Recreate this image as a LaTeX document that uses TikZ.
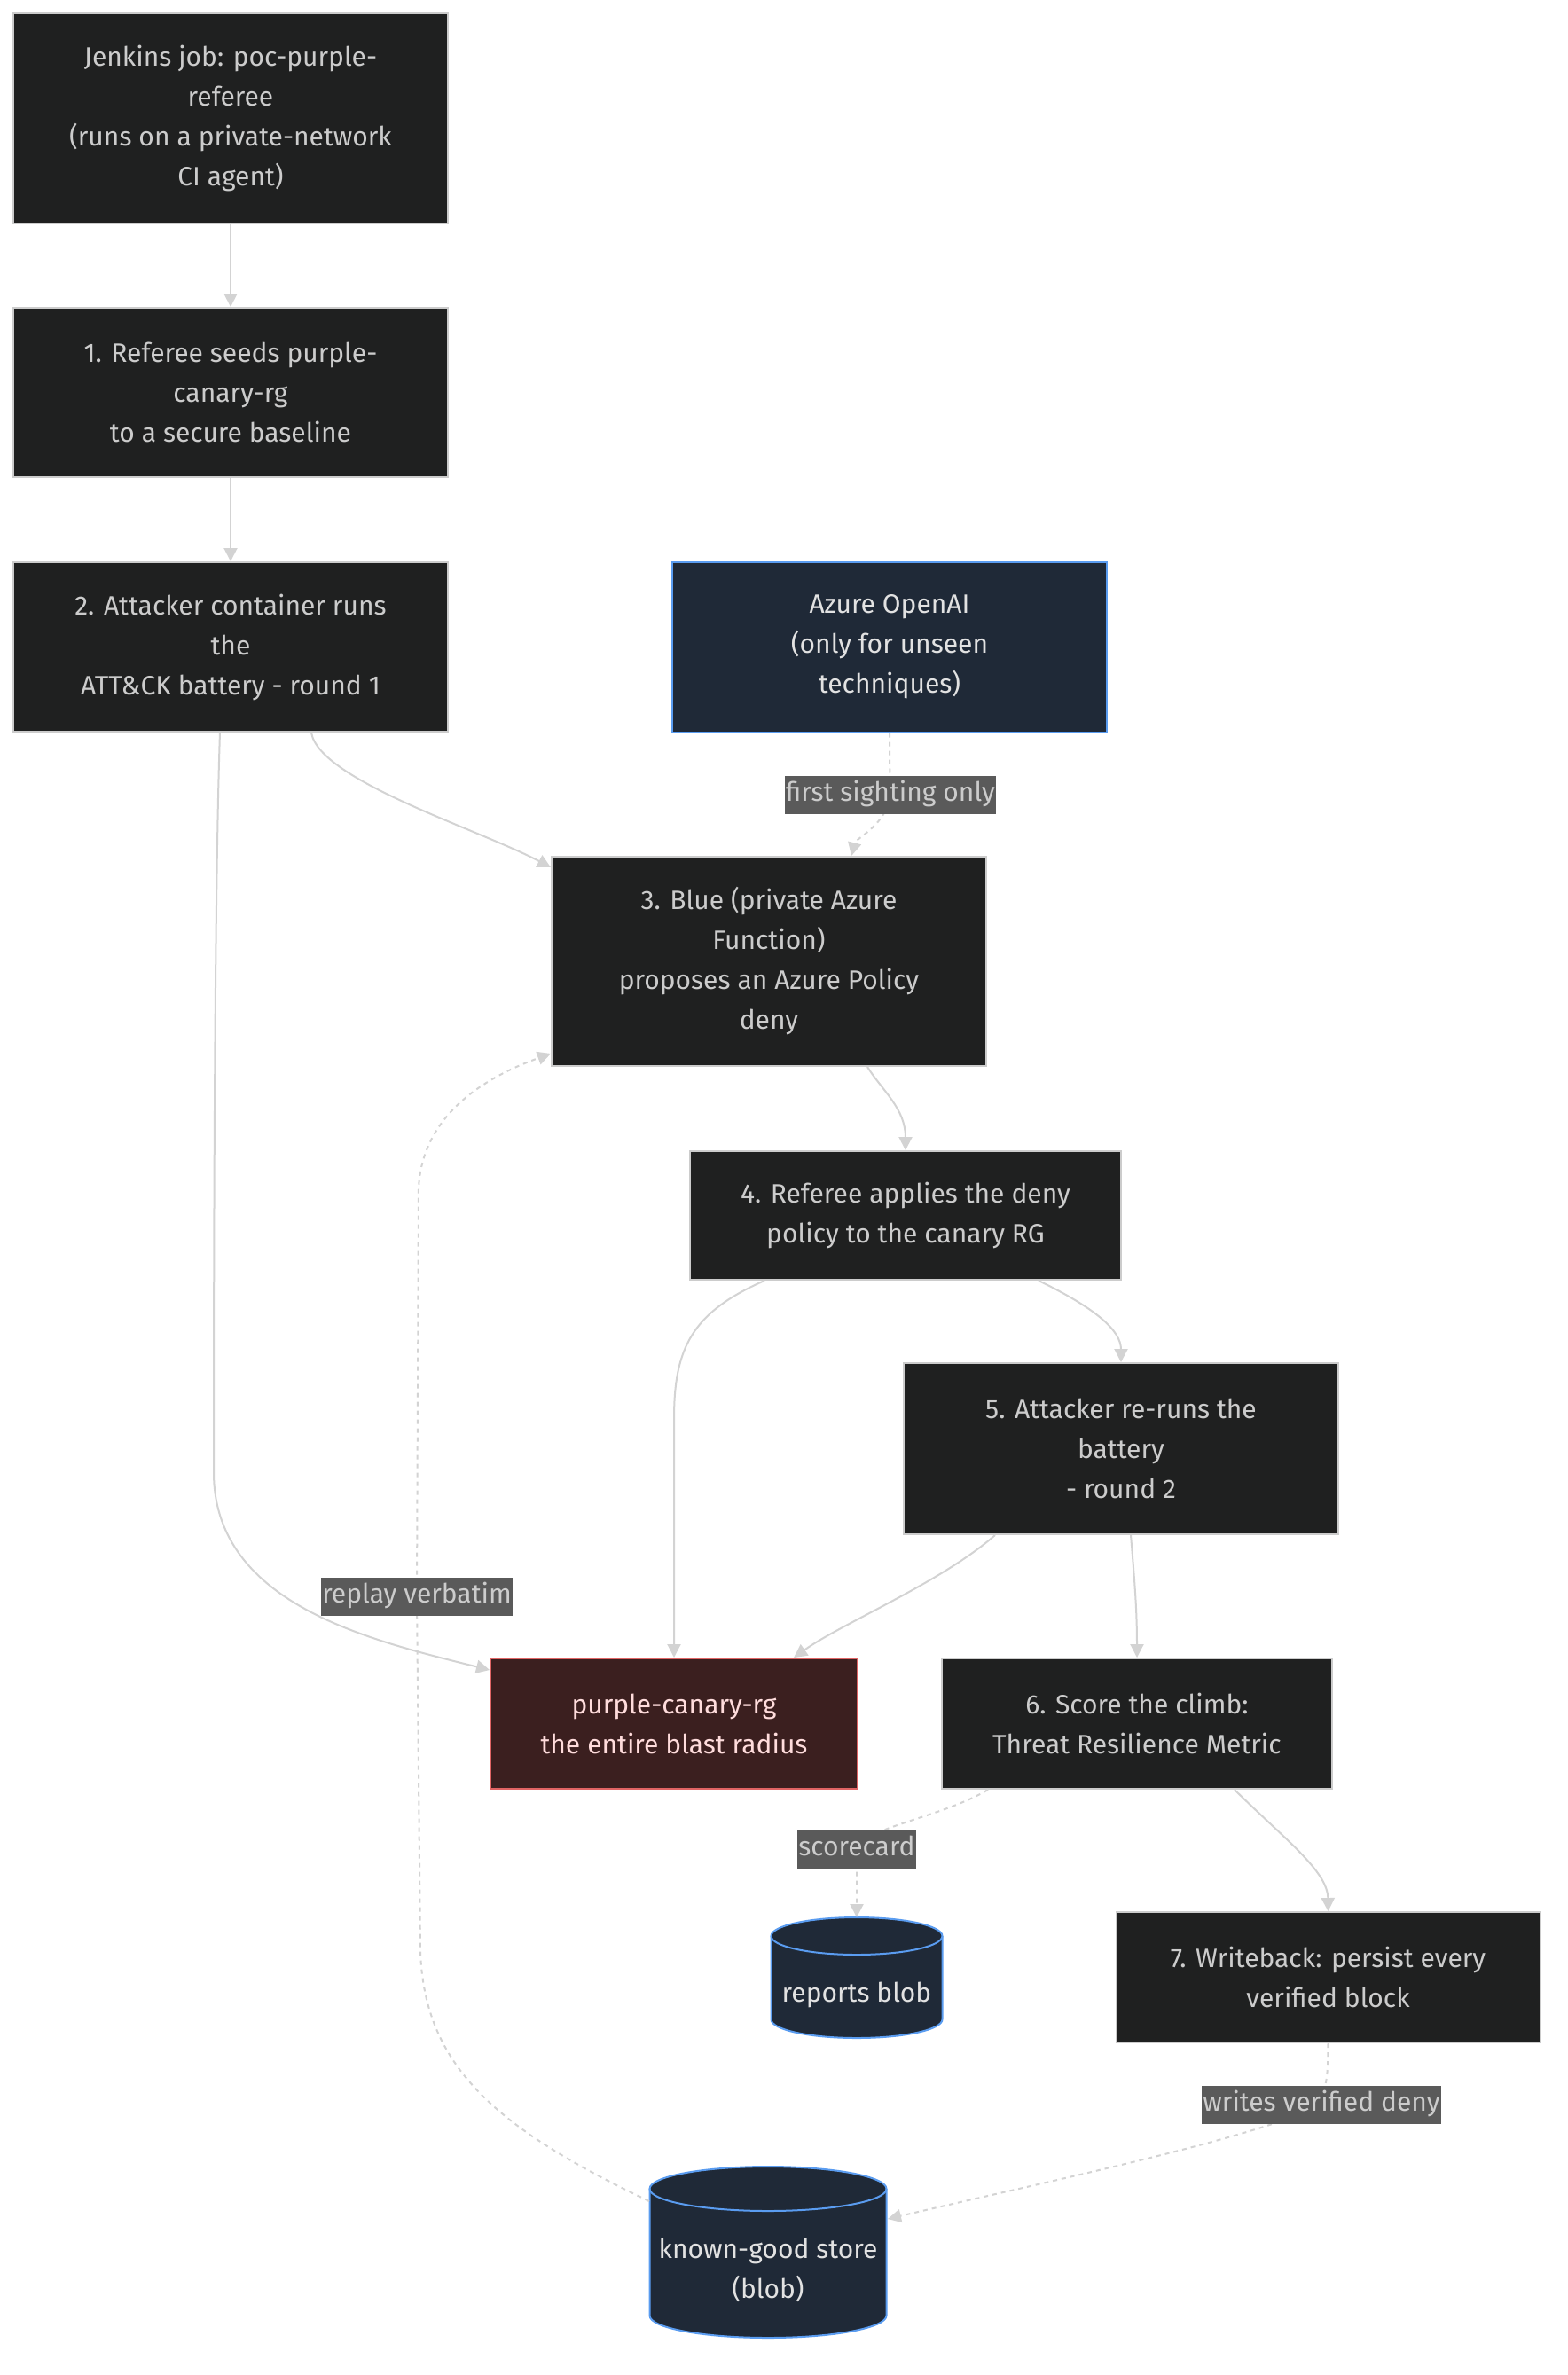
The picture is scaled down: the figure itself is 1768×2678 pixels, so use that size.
\documentclass[tikz,border=0pt]{standalone}
\usepackage{fontspec}
\setmainfont{Fira Sans}
\usetikzlibrary{arrows.meta}
\usepackage{xcolor}
\definecolor{stepfill}{HTML}{1F2020}
\definecolor{stepline}{HTML}{CCCCCC}
\definecolor{steptext}{HTML}{CCCCCC}
\definecolor{azfill}{HTML}{1F2937}
\definecolor{azline}{HTML}{5A9CF0}
\definecolor{aztext}{HTML}{E2E2E2}
\definecolor{rgfill}{HTML}{3B1F1F}
\definecolor{rgline}{HTML}{E06464}
\definecolor{rgtext}{HTML}{FFDCDC}
\definecolor{edgeline}{HTML}{D3D3D3}
\definecolor{labelfill}{HTML}{5A5A5A}
\tikzset{
	stepbox/.style={draw=stepline, line width=2pt, fill=stepfill, text=steptext, align=center, inner sep=0pt, font=\fontsize{30}{45}\selectfont},
	azbox/.style={stepbox, draw=azline, fill=azfill, text=aztext},
	rgbox/.style={stepbox, draw=rgline, fill=rgfill, text=rgtext},
	blobtext/.style={text=aztext, align=center, inner sep=0pt, font=\fontsize{30}{45}\selectfont},
	elabel/.style={fill=labelfill, text=steptext, inner xsep=1pt, inner ysep=7pt, text height=22pt, text depth=7pt, font=\fontsize{30}{45}\selectfont},
	flow/.style={draw=edgeline, line width=2pt, -{Triangle[length=15pt,width=15pt]}},
	dflow/.style={flow, dash pattern=on 5pt off 5pt},
}

\begin{document}
\begin{tikzpicture}[x=1pt,y=1pt]
			\fill[white] (0,0) rectangle (1768,-2678);
			\useasboundingbox (0,0) rectangle (1768,-2678);
			% boxes
			\node[stepbox, minimum width=490, minimum height=237] (jenkins) at (260,-133) {Jenkins job: poc-purple-\\referee\\(runs on a private-network\\CI agent)};
			\node[stepbox, minimum width=490, minimum height=191] (seed) at (260,-442.5) {1. Referee seeds purple-\\canary-rg\\to a secure baseline};
			\node[stepbox, minimum width=490, minimum height=191] (attack) at (260,-729.5) {2. Attacker container runs\\the\\ATT\&CK battery - round 1};
			\node[azbox, minimum width=490, minimum height=192] (openai) at (1003,-729.5) {Azure OpenAI\\(only for unseen\\techniques)};
			\node[stepbox, minimum width=490, minimum height=236] (blue) at (867,-1084) {3. Blue (private Azure\\Function)\\proposes an Azure Policy\\deny};
			\node[stepbox, minimum width=486, minimum height=145] (apply) at (1021,-1370.5) {4. Referee applies the deny\\policy to the canary RG};
			\node[stepbox, minimum width=490, minimum height=193] (rerun) at (1264,-1633.5) {5. Attacker re-runs the\\battery\\- round 2};
			\node[rgbox, minimum width=414, minimum height=147] (canary) at (760,-1943.5) {purple-canary-rg\\the entire blast radius};
			\node[stepbox, minimum width=440, minimum height=147] (score) at (1282,-1943.5) {6. Score the climb:\\Threat Resilience Metric};
			\node[stepbox, minimum width=478, minimum height=147] (writeback) at (1497.5,-2229.5) {7. Writeback: persist every\\verified block};
			% blobs
			\fill[azfill] (869.5,-2183) -- (869.5,-2277) arc[start angle=180,end angle=360,x radius=96.5,y radius=21] -- (1062.5,-2183) arc[start angle=0,end angle=180,x radius=96.5,y radius=21] -- cycle;
			\draw[azline, line width=2pt] (869.5,-2183) -- (869.5,-2277) arc[start angle=180,end angle=360,x radius=96.5,y radius=21] -- (1062.5,-2183);
			\draw[azline, line width=2pt] (966,-2183) ellipse [x radius=96.5, y radius=21];
			\node[blobtext] (reports) at (966,-2249) {reports blob};
			\coordinate (reportstop) at (966,-2162);
			\fill[azfill] (732.5,-2468) -- (732.5,-2611) arc[start angle=180,end angle=360,x radius=133.5,y radius=25] -- (999.5,-2468) arc[start angle=0,end angle=180,x radius=133.5,y radius=25] -- cycle;
			\draw[azline, line width=2pt] (732.5,-2468) -- (732.5,-2611) arc[start angle=180,end angle=360,x radius=133.5,y radius=25] -- (999.5,-2468);
			\draw[azline, line width=2pt] (866,-2468) ellipse [x radius=133.5, y radius=25];
			\node[blobtext] (known) at (866,-2560) {known-good store\\(blob)};
			\coordinate (knownright) at (1001,-2502);
			\coordinate (knownleft) at (732,-2482);
			% connectors
			\draw[flow] (jenkins) -- (seed);
			\draw[flow] (seed) -- (attack);
			\draw[flow] ([xshift=91]attack.south) .. controls (360,-880) and (540,-935) .. ([yshift=-13]blue.north west);
			\draw[flow] ([xshift=-12]attack.south) .. controls (242,-1000) and (241,-1400) .. (241,-1660) .. controls (241,-1810) and (420,-1850) .. ([yshift=-14]canary.north west);
			\draw[dflow] (openai.south) .. controls (1003,-860) .. (1004,-896) node[elabel]{first sighting only} .. controls (1000,-930) and (965,-945) .. ([xshift=93]blue.north);
			\draw[flow] ([xshift=111]blue.south) .. controls (995,-1230) and (1021,-1250) .. (apply.north);
			\draw[flow] ([xshift=-159]apply.south) .. controls (780,-1480) and (760,-1520) .. (760,-1600) -- (canary.north);
			\draw[flow] ([xshift=150]apply.south) .. controls (1235,-1475) and (1264,-1500) .. (rerun.north);
			\draw[flow] ([xshift=-142]rerun.south) .. controls (1060,-1785) and (950,-1830) .. ([xshift=135]canary.north);
			\draw[flow] ([xshift=11]rerun.south) .. controls (1280,-1790) and (1282,-1820) .. (score.north);
			\draw[dflow] ([xshift=-168]score.south) .. controls (1060,-2050) and (975,-2060) .. (966,-2085) node[elabel]{scorecard} .. controls (966,-2110) .. (reportstop);
			\draw[flow] ([xshift=110]score.south) .. controls (1450,-2075) and (1497,-2110) .. (writeback.north);
			\draw[dflow] (writeback.south) .. controls (1497,-2340) .. (1490,-2373) node[elabel]{writes verified deny} .. controls (1420,-2410) and (1180,-2460) .. (knownright);
			\draw[dflow] (knownleft) .. controls (560,-2400) and (478,-2330) .. (474,-2200) -- (470,-1800) node[elabel]{replay verbatim} -- (472,-1340) .. controls (476,-1250) and (560,-1210) .. ([yshift=15]blue.south west);
\end{tikzpicture}
\end{document}
